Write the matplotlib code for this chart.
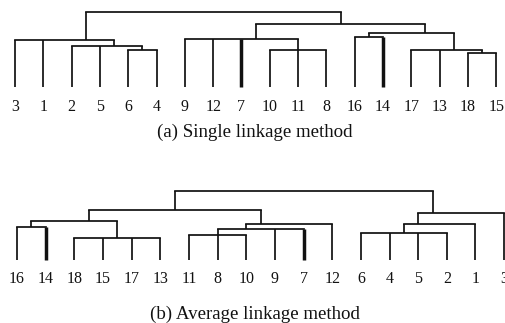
import numpy as np
import matplotlib
matplotlib.use('Agg')
import matplotlib.pyplot as plt

# (a) single linkage
leaves_a = ['3', '1', '2', '5', '6', '4', '9', '12', '7', '10', '11', '8',
            '16', '14', '17', '13', '18', '15']
merge_names_a = ['a1', 'a2', 'a3', 'b1', 'b2', 'c1', 'c2', 'c3', 'c4', 'd', 'top']
merge_children_a = [['6', '4'], ['2', '5', 'a1'], ['3', '1', 'a2'],
                    ['10', '11', '8'], ['9', '12', '7', 'b1'],
                    ['16', '14'], ['18', '15'], ['17', '13', 'c2'], ['c1', 'c3'],
                    ['b2', 'c4'], ['a3', 'd']]
merge_heights_a = [3.7, 4.1, 4.7, 3.7, 4.8, 5.0, 3.4, 3.7, 5.4, 6.3, 7.5]
thick_a = ['7', '14']

# (b) average linkage
leaves_b = ['16', '14', '18', '15', '17', '13', '11', '8', '10', '9', '7', '12',
            '6', '4', '5', '2', '1', '3']
merge_names_b = ['p1', 'p2', 'p3', 'q1', 'q2', 'q3', 'pq', 'r1', 'r2', 'r3', 'top']
merge_children_b = [['16', '14'], ['18', '15', '17', '13'], ['p1', 'p2'],
                    ['11', '8', '10'], ['q1', '9', '7'], ['q2', '12'],
                    ['p3', 'q3'], ['6', '4', '5', '2'], ['r1', '1'], ['r2', '3'],
                    ['pq', 'r3']]
merge_heights_b = [3.3, 2.2, 3.9, 2.5, 3.1, 3.6, 5.0, 2.7, 3.6, 4.7, 6.9]
thick_b = ['14', '7']

LW = 1.25
SERIF = 'Liberation Serif'


def draw_tree(ax, leaves, names, children, heights, thick, label_off):
    pos = {lab: i for i, lab in enumerate(leaves)}
    hgt = {lab: 0.0 for lab in leaves}
    members = {lab: [lab] for lab in leaves}
    for name, kids, h in zip(names, children, heights):
        members[name] = [m for k in kids for m in members[k]]
        pos[name] = np.mean([pos[m] for m in members[name]])
        xs = [pos[k] for k in kids]
        ax.plot([min(xs), max(xs)], [h, h], color='#111111', lw=LW,
                solid_capstyle='projecting', clip_on=False)
        for k in kids:
            w = LW * 2.0 if k in thick else LW
            ax.plot([pos[k], pos[k]], [hgt[k], h], color='#111111', lw=w,
                    solid_capstyle='butt', clip_on=False)
        hgt[name] = h
    for lab in leaves:
        ax.annotate(lab, (pos[lab], 0), xytext=(0, label_off), textcoords='offset points',
                    ha='center', va='baseline', fontsize=11.5, family=SERIF,
                    color='#111111', annotation_clip=False)


fig = plt.figure(figsize=(5.05, 3.23), dpi=100)

ax1 = fig.add_axes([0, 1 - 87 / 323, 1, 75 / 323])
draw_tree(ax1, leaves_a, merge_names_a, merge_children_a, merge_heights_a, thick_a, -17.6)
ax1.set_xlim(-0.53, 17.31)
ax1.set_ylim(0, 7.5)
ax1.set_axis_off()

ax2 = fig.add_axes([0, 1 - 260 / 323, 1, 69 / 323])
draw_tree(ax2, leaves_b, merge_names_b, merge_children_b, merge_heights_b, thick_b, -16.8)
ax2.set_xlim(-0.593, 17.03)
ax2.set_ylim(0, 6.9)
ax2.set_axis_off()

fig.text(0.505, 1 - 137 / 323, '(a) Single linkage method', ha='center', va='baseline',
         fontsize=13.6, family=SERIF, color='#111111')
fig.text(0.505, 1 - 319 / 323, '(b) Average linkage method', ha='center', va='baseline',
         fontsize=13.6, family=SERIF, color='#111111')

fig.savefig('out.png', dpi=100, facecolor='white')
